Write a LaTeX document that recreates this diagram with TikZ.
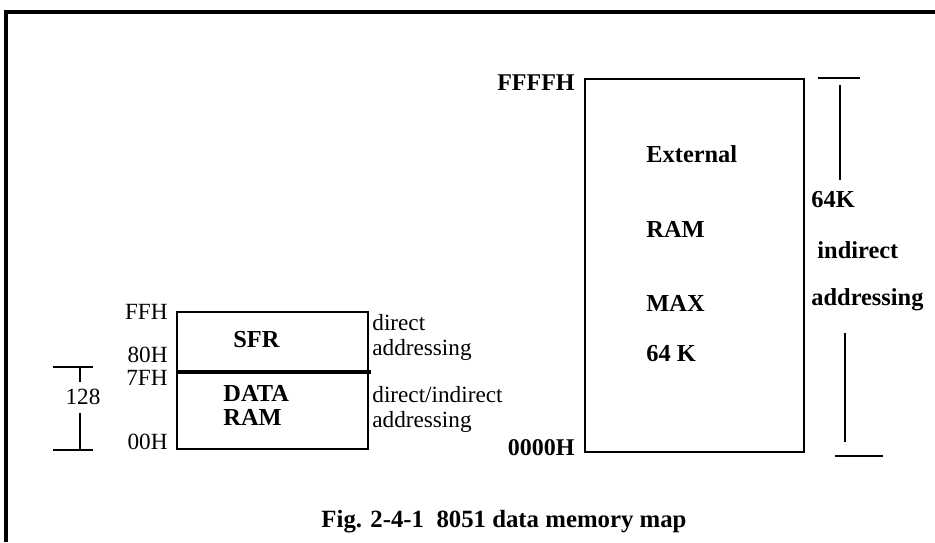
\documentclass[tikz,border=0pt]{standalone}
\usepackage{fontspec}
\setmainfont{Liberation Serif}
\usetikzlibrary{positioning}

\begin{document}
\begin{tikzpicture}[
  x=0.5pt, y=-0.5pt,
  mem/.style={rectangle, draw, line width=0.9pt, inner sep=0pt, anchor=north west},
  addr/.style={inner sep=0pt, anchor=east, font=\fontsize{11.6}{12.5}\selectfont},
  bigaddr/.style={inner sep=0pt, anchor=east, font=\fontsize{12}{14}\selectfont\bfseries},
  note/.style={inner sep=0pt, anchor=west, align=left, font=\fontsize{11.6}{12.5}\selectfont},
  label/.style={inner sep=0pt, anchor=west, align=left, font=\fontsize{12.2}{12}\selectfont\bfseries},
  tick/.style={line width=0.6pt},
]
  \useasboundingbox (0,0) rectangle (935,542);
  \draw[line width=1.8pt] (6,542) -- (6,12) -- (935,12);

  % internal data memory
  \node[mem, minimum width=95.5pt, minimum height=29.5pt] (sfr) at (176,311) {};
  \node[mem, minimum width=95.5pt, minimum height=39pt] (iram) at (176,370) {};
  \draw[line width=1.8pt] (sfr.south west) -- ([xshift=1pt]sfr.south east);
  \node[label] (sfrtxt) at (233,340) {SFR};
  \node[label] (iramtxt) at (223,405) {DATA\\RAM};

  \node[addr] (ffh) at (168,312) {FFH};
  \node[addr] (h80) at (168,355) {80H};
  \node[addr] (h7f) at (168,378) {7FH};
  \node[addr] (h00) at (168,442) {00H};

  \node[note] (dir) at (372,337) {direct\\addressing};
  \node[note] (indir) at (372,409) {direct/indirect\\addressing};

  % 128 bytes span
  \node[inner sep=0pt, font=\fontsize{11.6}{12.5}\selectfont] (n128) at (83,397) {128};
  \coordinate (lt1) at (53,367);
  \coordinate (lt2) at (93,367);
  \coordinate (lb1) at (53,450);
  \coordinate (lb2) at (93,450);
  \draw[tick] (lt1) -- (lt2);
  \draw[tick] (lb1) -- (lb2);
  \draw[tick] (80,367) -- (80,382);
  \draw[tick] (80,413) -- (80,449);

  % external data memory
  \node[mem, minimum width=109.5pt, minimum height=186.5pt] (xram) at (584,78) {};
  \node[label] (ext) at (646,154) {External};
  \node[label] (ram) at (646,229) {RAM};
  \node[label] (max) at (646,303) {MAX};
  \node[label] (k64in) at (646,354) {64 K};

  \node[bigaddr] (ffffh) at (575,83) {FFFFH};
  \node[bigaddr] (h0000) at (575,448) {0000H};

  \node[label] (k64) at (811,200) {64K};
  \node[label] (xind) at (817,250) {indirect};
  \node[label] (xaddr) at (811,300) {addressing};

  % 64K span
  \coordinate (rt1) at (818,78);
  \coordinate (rt2) at (860,78);
  \coordinate (rb1) at (835,456);
  \coordinate (rb2) at (883,456);
  \draw[tick] (rt1) -- (rt2);
  \draw[tick] (rb1) -- (rb2);
  \draw[tick] (840,85) -- (840,180);
  \draw[tick] (845,333) -- (845,442);

  \node[inner sep=0pt, font=\fontsize{12.4}{14}\selectfont\bfseries] (cap) at (504,522)
    {Fig. 2-4-1\ \ 8051 data memory map};
\end{tikzpicture}
\end{document}
